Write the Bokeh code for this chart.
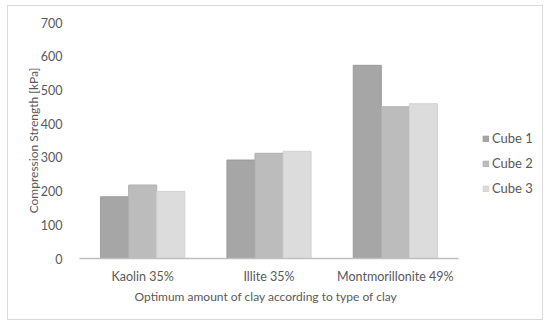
from bokeh.plotting import figure
from bokeh.models import ColumnDataSource, Legend, LegendItem, Range1d, FixedTicker, InlineStyleSheet, Title
from bokeh.transform import dodge
from bokeh.embed import file_html
from bokeh.resources import INLINE

categories = ["Kaolin 35%", "Illite 35%", "Montmorillonite 49%"]
cube1 = [183, 292, 573]
cube2 = [218, 312, 450]
cube3 = [199, 318, 459]
series_names = ["Cube 1", "Cube 2", "Cube 3"]
y_ticks = [0, 100, 200, 300, 400, 500, 600, 700]
colors = ["#a6a6a6", "#bcbcbc", "#dcdcdc"]
edge_colors = ["#9a9a9a", "#b0b0b0", "#d0d0d0"]

xpos = [i + 0.5 for i in range(len(categories))]
src = ColumnDataSource(dict(x=xpos, cat=categories, c1=cube1, c2=cube2, c3=cube3))

FONT = "Lato"
TXT = "#595959"

W, H = 536, 315
ML, MR, MT, MB = 71, 3, 16, 63
frame_w = W - ML - MR
axis_w = 379
cat_px = axis_w / len(categories)

p = figure(x_range=Range1d(0, frame_w / cat_px), y_range=Range1d(0, 700),
           width=W, height=H, output_backend="svg", toolbar_location=None,
           min_border_left=ML, min_border_right=MR, min_border_top=MT, min_border_bottom=MB,
           stylesheets=[InlineStyleSheet(css=":host { border: 1px solid #d9d9d9; position: relative; left: 7px; top: 5px; }")])
p.outline_line_color = None
p.xgrid.grid_line_color = None
p.ygrid.grid_line_color = None

bw = 0.222
renderers = []
for i, col in enumerate(["c1", "c2", "c3"]):
    r = p.vbar(x=dodge("x", (i - 1) * bw), top=col, width=bw,
               source=src, fill_color=colors[i], line_color=edge_colors[i], line_width=1)
    renderers.append(r)

p.yaxis.ticker = FixedTicker(ticks=y_ticks)
p.yaxis.axis_line_color = None
p.yaxis.major_tick_line_color = None
p.yaxis.minor_tick_line_color = None
p.yaxis.major_label_standoff = 11
p.yaxis.major_label_text_font = FONT
p.yaxis.major_label_text_font_size = "12.5px"
p.yaxis.major_label_text_color = TXT
p.yaxis.axis_label = "Compression Strength [kPa]"
p.yaxis.axis_label_text_font = FONT
p.yaxis.axis_label_text_font_size = "12px"
p.yaxis.axis_label_text_font_style = "normal"
p.yaxis.axis_label_text_color = TXT
p.yaxis.axis_label_standoff = -3

p.xaxis.ticker = FixedTicker(ticks=xpos)
p.xaxis.major_label_overrides = {x: c for x, c in zip(xpos, categories)}
p.xaxis.bounds = (0, len(categories))
p.xaxis.axis_line_color = "#bfbfbf"
p.xaxis.axis_line_width = 1.5
p.xaxis.major_tick_line_color = None
p.xaxis.minor_tick_line_color = None
p.xaxis.major_label_standoff = 4
p.xaxis.major_label_text_font = FONT
p.xaxis.major_label_text_font_size = "12.5px"
p.xaxis.major_label_text_color = TXT

xtitle = Title(text="Optimum amount of clay according to type of clay", align="left",
               offset=55, standoff=0,
               text_font=FONT, text_font_size="12px", text_font_style="normal", text_color=TXT)
p.add_layout(xtitle, "below")

legend = Legend(items=[LegendItem(label=n, renderers=[r]) for n, r in zip(series_names, renderers)],
                location=(403, 62), orientation="vertical",
                glyph_width=7, glyph_height=7, label_standoff=3, spacing=9,
                label_text_font=FONT, label_text_font_size="13px", label_text_color=TXT,
                background_fill_alpha=0, border_line_color=None, padding=0, margin=0)
p.add_layout(legend, "center")

open("out.html", "w").write(file_html(p, INLINE))
